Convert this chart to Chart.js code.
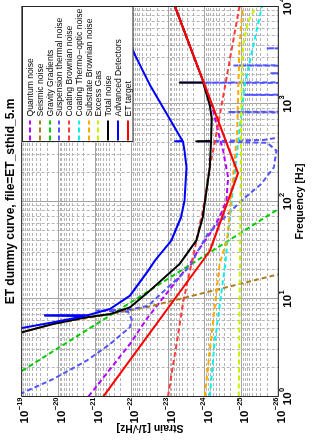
<!DOCTYPE html>
<html>
<head>
<meta charset="utf-8">
<title>ET dummy curve</title>
<script src="https://cdn.jsdelivr.net/npm/chart.js@4.4.1/dist/chart.umd.min.js"></script>
<style>
    html, body { margin: 0; padding: 0; background: #fff; overflow: hidden; }
    #page { position: relative; width: 313px; height: 443px; overflow: hidden; }
    /* the figure is drawn landscape and turned a quarter turn, like the printed page */
    #figure {
        position: absolute; left: 0; top: 0; width: 443px; height: 313px;
        transform-origin: 0 0; transform: translate(0, 443px) rotate(-90deg);
    }
</style>
</head>
<body>
<div id="page"><div id="figure"><canvas id="etChart" width="443" height="313"></canvas></div></div>
<script>
// values (frequency in Hz, strain in 1/sqrt(Hz))
const freqTickValues = [1, 10, 100, 1000, 10000];
const freqTickLabels = ['0', '1', '2', '3', '4'];
const strainTickValues = [1e-26, 1e-25, 1e-24, 1e-23, 1e-22, 1e-21, 1e-20, 1e-19];
const strainTickLabels = ['\u221226', '\u221225', '\u221224', '\u221223', '\u221222', '\u221221', '\u221220', '\u221219'];
const minorSteps = [2, 3, 4, 5, 6, 7, 8, 9];

const seriesNames = [
    'Quantum noise', 'Seismic noise', 'Gravity Gradients', 'Suspension thermal noise',
    'Coating Brownian noise', 'Coating Thermo\u2212optic noise', 'Substrate Brownian noise',
    'Excess Gas', 'Total noise', 'Advanced Detectors', 'ET target'
];

const quantumFreq = [1, 3.45, 6.5, 22.9, 31.3, 46.5, 68.9, 102, 177, 331, 490, 1000, 10000];
const quantumStrain = [1.51e-21, 1.12e-22, 3.6e-23, 2.6e-24, 1.55e-24, 7.4e-25, 4.0e-25, 2.6e-25, 2.34e-25, 3.2e-25, 4.2e-25, 6.6e-25, 6.6e-24];

const seismicFreq = [4.5, 5.55, 7.0, 8.3, 18.0, 22.4];
const seismicStrain = [1.12e-19, 1.38e-20, 3.9e-22, 3.6e-23, 9.5e-27, 1.0e-27];

const gravityFreq = [1, 10, 100];
const gravityStrain = [1.26e-18, 7.6e-23, 4.7e-27];

const suspensionFreq = [1.06, 1.51, 2.33, 3.45, 5.13, 6.24, 7.4, 7.6, 7.8, 8.5, 13.2, 17.4, 22.9, 31.3, 46.5, 68.9, 102, 151, 224, 331,
    400, 414, 428, 520, 818, 828, 838, 1228, 1242, 1256, 1640, 1656, 1672, 2050, 2070, 2090, 2460, 2484, 2508, 3690, 3726, 3762, 10000];
const suspensionStrain = [1.12e-19, 1.38e-20, 1.7e-21, 3.9e-22, 1.12e-22, 1.0e-22, 1.26e-22, 9.1e-22, 1.12e-22, 3.6e-23, 1.02e-23, 4.5e-24,
    2.34e-24, 1.55e-24, 8.3e-25, 2.9e-25, 1.02e-25, 2.95e-26, 1.32e-26, 1.12e-26,
    2.0e-26, 1.74e-24, 2.5e-26, 1e-27, 1e-27, 2.34e-25, 1e-27, 1e-27, 8.1e-26, 1e-27, 1e-27, 4.9e-24, 1e-27,
    1e-27, 1.55e-26, 1e-27, 1e-27, 1.58e-25, 1e-27, 1e-27, 2.1e-26, 1e-27, 1e-27];

const coatingFreq = [1, 10, 46.5, 102, 224, 490, 10000];
const coatingStrain = [1.02e-23, 3.8e-24, 1.55e-24, 1.02e-24, 7.4e-25, 4.9e-25, 1.15e-25];

const thermoOpticFreq = [1, 3.47, 22.9, 46.5, 468, 771, 1567, 10000];
const thermoOpticStrain = [7.4e-25, 5.5e-25, 2.8e-25, 2.34e-25, 1.2e-25, 1.02e-25, 8.3e-26, 2.8e-26];

const substrateFreq = [1, 22.9, 40, 520, 4030, 10000];
const substrateStrain = [1.02e-24, 4.0e-25, 2.5e-25, 1.32e-25, 1.15e-25, 9.3e-26];

const excessGasFreq = [1, 2000, 4030, 6900, 10000];
const excessGasStrain = [1.2e-25, 1.0e-25, 9.1e-26, 6.8e-26, 4.0e-26];

const totalFreq = [4.5, 5.55, 6.5, 7.0, 8.2, 11.7, 22.9, 39.6, 69, 224, 410, 414, 418, 713, 977, 1648, 1656, 1664, 10000];
const totalStrain = [1.12e-19, 1.38e-20, 1.7e-21, 3.9e-22, 1.12e-22, 3.6e-23, 4.9e-24, 1.74e-24, 1.15e-24, 7.4e-25,
    6.9e-25, 1.74e-24, 6.9e-25, 6.5e-25, 7.4e-25, 1.12e-24, 4.9e-24, 1.09e-24, 6.6e-24];

const advancedFreq = [5.0, 5.77, 6.68, 6.75, 6.82, 7.9, 10.8, 19.5, 24.7, 39.6, 69, 102, 224, 331, 410, 414, 418, 470, 1570, 3160, 10000];
const advancedStrain = [1.12e-19, 1.38e-20, 1.9e-21, 2.3e-20, 1.58e-21, 3.9e-22, 1.12e-22, 3.55e-23, 2.34e-23, 8.3e-24, 4.5e-24,
    3.6e-24, 3.2e-24, 3.6e-24, 4.0e-24, 6.6e-24, 4.1e-24, 4.9e-24, 3.2e-23, 8.1e-23, 2.8e-22];

const etTargetFreq = [1, 31, 195, 10000];
const etTargetStrain = [5.9e-22, 7.4e-25, 1.26e-25, 6.6e-24];

(function () {
    'use strict';

    const FONT = "'Liberation Sans', Arial, Helvetica, sans-serif";
    const AXIS_COLOR = '#262626';
    const DASH = [5, 3];

    const seriesData = [
        [quantumFreq, quantumStrain],
        [seismicFreq, seismicStrain],
        [gravityFreq, gravityStrain],
        [suspensionFreq, suspensionStrain],
        [coatingFreq, coatingStrain],
        [thermoOpticFreq, thermoOpticStrain],
        [substrateFreq, substrateStrain],
        [excessGasFreq, excessGasStrain],
        [totalFreq, totalStrain],
        [advancedFreq, advancedStrain],
        [etTargetFreq, etTargetStrain]
    ];

    const seriesStyles = [
        { color: '#b400ff', dash: DASH },
        { color: '#b07d1c', dash: DASH },
        { color: '#00cc00', dash: DASH },
        { color: '#5555ff', dash: DASH },
        { color: '#ff3b3b', dash: DASH },
        { color: '#11eeee', dash: DASH },
        { color: '#ffaa00', dash: DASH },
        { color: '#c8f000', dash: DASH },
        { color: '#000000', dash: [] },
        { color: '#0000ff', dash: [] },
        { color: '#ff0000', dash: [] }
    ];

    function toPoints(freq, strain) {
        return freq.map(function (f, i) { return { x: f, y: strain[i] }; });
    }

    function buildDatasets() {
        return seriesNames.map(function (name, i) {
            const style = seriesStyles[i];
            return {
                label: name,
                data: toPoints(seriesData[i][0], seriesData[i][1]),
                borderColor: style.color,
                backgroundColor: style.color,
                borderWidth: 2,
                borderDash: style.dash,
                borderJoinStyle: 'round',
                pointRadius: 0,
                showLine: true,
                fill: false,
                tension: 0,
                // later series sit on top, like the original plot order
                order: seriesNames.length - i
            };
        });
    }

    function decadeTicks(majors) {
        const ticks = [];
        majors.forEach(function (v, i) {
            ticks.push({ value: v });
            if (i < majors.length - 1) {
                minorSteps.forEach(function (m) { ticks.push({ value: v * m }); });
            }
        });
        return ticks;
    }

    function isDecade(value) {
        const e = Math.log10(value);
        return Math.abs(e - Math.round(e)) < 1e-6;
    }

    function logAxis(majors, extra) {
        return Object.assign({
            type: 'logarithmic',
            min: majors[0],
            max: majors[majors.length - 1],
            afterBuildTicks: function (scale) {
                scale.ticks = decadeTicks(majors);
            },
            ticks: { display: false, autoSkip: false },
            grid: {
                drawTicks: false,
                lineWidth: 1,
                color: function (ctx) {
                    return ctx.tick && isDecade(ctx.tick.value) ? '#a4a4a4' : '#b4b4b4';
                }
            },
            border: {
                display: false,
                dash: function (ctx) {
                    return ctx.tick && !isDecade(ctx.tick.value) ? [3, 2] : [];
                }
            }
        }, extra);
    }

    // "10" with a raised exponent, placed through the scale
    function drawPower(ctx, x, baseline, exponent, align) {
        ctx.font = 'bold 11.5px ' + FONT;
        const wBase = ctx.measureText('10').width;
        ctx.font = 'bold 7.5px ' + FONT;
        const wExp = ctx.measureText(exponent).width;
        const total = wBase + wExp + 0.5;
        const left = align === 'center' ? x - total / 2 : x - total;
        ctx.font = 'bold 11.5px ' + FONT;
        ctx.fillText('10', left, baseline);
        ctx.font = 'bold 7.5px ' + FONT;
        ctx.fillText(exponent, left + wBase + 0.5, baseline - 6.6);
    }

    const powerTicksPlugin = {
        id: 'powerTicks',
        afterDraw: function (chart) {
            const ctx = chart.ctx;
            const area = chart.chartArea;
            const xs = chart.scales.x;
            const ys = chart.scales.y;
            ctx.save();
            ctx.fillStyle = '#000';
            ctx.textAlign = 'left';
            ctx.textBaseline = 'alphabetic';
            freqTickValues.forEach(function (v, i) {
                drawPower(ctx, xs.getPixelForValue(v), area.bottom + 12.7, freqTickLabels[i], 'center');
            });
            strainTickValues.forEach(function (v, i) {
                drawPower(ctx, area.left - 1, ys.getPixelForValue(v) + 6.6, strainTickLabels[i], 'right');
            });
            ctx.restore();
        }
    };

    const frameLegendPlugin = {
        id: 'frameLegend',
        afterDatasetsDraw: function (chart) {
            const ctx = chart.ctx;
            const area = chart.chartArea;
            ctx.save();
            ctx.strokeStyle = AXIS_COLOR;
            ctx.lineWidth = 1;
            ctx.strokeRect(area.left, area.top, area.right - area.left, area.bottom - area.top);

            const w = 136;
            const h = 111.5;
            const left = area.right - w;
            const top = area.top;
            ctx.fillStyle = '#fff';
            ctx.fillRect(left, top, w, h);
            ctx.strokeRect(Math.round(left) + 0.5, Math.round(top) + 0.5, w - 1, h - 1);

            ctx.font = '8.6px ' + FONT;
            ctx.textAlign = 'left';
            ctx.textBaseline = 'middle';
            chart.data.datasets.forEach(function (ds, i) {
                const y = Math.round(top + 8.3 + 9.77 * i);
                ctx.strokeStyle = ds.borderColor;
                ctx.lineWidth = ds.borderWidth;
                ctx.setLineDash(ds.borderDash);
                ctx.beginPath();
                ctx.moveTo(left + 2, y);
                ctx.lineTo(left + 22, y);
                ctx.stroke();
                ctx.setLineDash([]);
                ctx.fillStyle = '#000';
                ctx.fillText(ds.label, left + 26, y + 0.5);
            });
            ctx.restore();
        }
    };

    function initChart() {
        const canvas = document.getElementById('etChart');
        Chart.defaults.font.family = FONT;
        Chart.defaults.color = '#000';

        new Chart(canvas.getContext('2d'), {
            type: 'scatter',
            data: { datasets: buildDatasets() },
            options: {
                responsive: false,
                animation: false,
                events: [],
                layout: { padding: { left: 0, right: 6.5, top: 0, bottom: 0 } },
                plugins: {
                    legend: { display: false },
                    tooltip: { enabled: false },
                    title: {
                        display: true,
                        fullSize: false,
                        text: 'ET dummy curve, file=ET_sthid_5.m',
                        color: '#000',
                        font: { size: 12, weight: 'bold' },
                        padding: { top: 3, bottom: 4.3 }
                    }
                },
                scales: {
                    x: logAxis(freqTickValues, {
                        position: 'bottom',
                        title: {
                            display: true,
                            text: 'Frequency [Hz]',
                            color: '#000',
                            font: { size: 10.5, weight: 'bold' },
                            padding: { top: 0, bottom: 6.7 }
                        },
                        afterFit: function (scale) {
                            scale.height = 34.7;
                            scale.paddingLeft = 0;
                            scale.paddingRight = 0;
                        }
                    }),
                    y: logAxis(strainTickValues, {
                        position: 'left',
                        title: {
                            display: true,
                            text: 'Strain [1/\u221AHz]',
                            color: '#000',
                            font: { size: 10.5, weight: 'bold' },
                            padding: { top: 9, bottom: 0 }
                        },
                        afterFit: function (scale) {
                            scale.width = 46.5;
                            scale.paddingTop = 0;
                            scale.paddingBottom = 0;
                        }
                    })
                }
            },
            plugins: [frameLegendPlugin, powerTicksPlugin]
        });
    }

    if (document.readyState === 'loading') {
        document.addEventListener('DOMContentLoaded', initChart);
    } else {
        initChart();
    }
})();
</script>
</body>
</html>
